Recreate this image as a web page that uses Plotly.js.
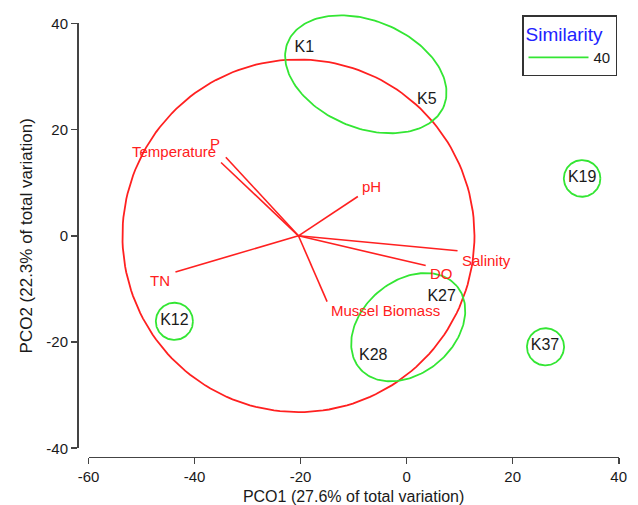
<!DOCTYPE html>
<html>
<head>
<meta charset="utf-8">
<script src="https://cdn.plot.ly/plotly-3.0.1.min.js"></script>
<style>html,body{margin:0;padding:0;background:#fff;}</style>
</head>
<body>
<div id="chart" style="width:638px;height:505px;"></div>
<script>
// ---------- data ----------
const siteNames = ["K1", "K5", "K19", "K12", "K27", "K28", "K37"];
const siteX = [-19.3, 3.8, 33.1, -43.8, 6.6, -6.3, 26.1];
const siteY = [35.4, 25.6, 10.8, -16.0, -11.6, -22.6, -20.7];

const vectorNames = ["Temperature", "P", "pH", "Salinity", "DO", "Mussel Biomass", "TN"];
const vectorX = [-35.0, -34.1, -9.2, 9.6, 3.6, -15.0, -43.6];
const vectorY = [13.8, 14.8, 7.4, -2.8, -5.6, -12.4, -6.8];
const vectorOrigin = [-20.4, 0];
const correlationCircleRadius = 33.2;

// similarity (40) contours: centre x, centre y, semi-axis a, semi-axis b, angle (deg)
const clusterCX = [-7.7, 0.3, 33.1, -43.8, 26.2];
const clusterCY = [30.4, -17.2, 10.8, -16.1, -20.9];
const clusterA = [15.9, 12.0, 3.45, 3.5, 3.5];
const clusterB = [10.1, 8.7, 3.45, 3.5, 3.5];
const clusterAngle = [-22, 40, 0, 0, 0];
const similarityLevel = "40";

const xTickVals = [-60, -40, -20, 0, 20, 40];
const xTickText = ["-60", "-40", "-20", "0", "20", "40"];
const yTickVals = [-40, -20, 0, 20, 40];
const yTickText = ["-40", "-20", "0", "20", "40"];
const xTitle = "PCO1 (27.6% of total variation)";
const yTitle = "PCO2 (22.3% of total variation)";

// ---------- styles ----------
const FONT = "Arial, 'Liberation Sans', sans-serif";
const RED = "#ff2020";
const GREEN = "#33e633";
const labelStyle = {
  "Temperature":    {xa: "right", ya: "middle", dx: -3, dy: 11},
  "P":              {xa: "right", ya: "middle", dx: -4, dy: 14},
  "pH":             {xa: "left",  ya: "middle", dx: 2,  dy: 10},
  "Salinity":       {xa: "left",  ya: "middle", dx: 2,  dy: -10},
  "DO":             {xa: "left",  ya: "middle", dx: 2,  dy: -8},
  "Mussel Biomass": {xa: "left",  ya: "middle", dx: 2,  dy: -9},
  "TN":             {xa: "right", ya: "middle", dx: -3, dy: -9}
};

// ---------- geometry of the frame ----------
const W = 638, H = 505;
const axX0 = 88.5, axX1 = 618.7;     // pixel positions of x=-60 and x=40
const axYT = 23.3, axYB = 448.3;     // pixel positions of y=40 and y=-40
const sx = (axX1 - axX0) / 100;
const sy = (axYB - axYT) / 80;

function ellipsePath(cx, cy, a, b, angDeg) {
  const t = angDeg * Math.PI / 180, xs = [], ys = [];
  for (let i = 0; i <= 180; i++) {
    const u = 2 * Math.PI * i / 180;
    const ex = a * Math.cos(u), ey = b * Math.sin(u);
    xs.push(cx + ex * Math.cos(t) - ey * Math.sin(t));
    ys.push(cy + ex * Math.sin(t) + ey * Math.cos(t));
  }
  return [xs, ys];
}

const traces = [];

// correlation circle
const cc = ellipsePath(vectorOrigin[0], vectorOrigin[1], correlationCircleRadius, correlationCircleRadius, 0);
traces.push({x: cc[0], y: cc[1], mode: "lines", line: {color: RED, width: 1.8},
  showlegend: false, hoverinfo: "skip"});

// vectors
const vx = [], vy = [];
vectorNames.forEach((n, i) => {
  vx.push(vectorOrigin[0], vectorX[i], null);
  vy.push(vectorOrigin[1], vectorY[i], null);
});
traces.push({x: vx, y: vy, mode: "lines", line: {color: RED, width: 1.6},
  showlegend: false, hoverinfo: "skip"});

// similarity contours
const gx = [], gy = [];
clusterCX.forEach((c, i) => {
  const p = ellipsePath(clusterCX[i], clusterCY[i], clusterA[i], clusterB[i], clusterAngle[i]);
  gx.push(...p[0], null); gy.push(...p[1], null);
});
traces.push({x: gx, y: gy, mode: "lines", name: similarityLevel,
  line: {color: GREEN, width: 1.8}, showlegend: true, hoverinfo: "skip"});

// site labels
traces.push({x: siteX, y: siteY, text: siteNames, mode: "text", textposition: "middle center",
  textfont: {family: FONT, size: 16, color: "#1a1a1a"}, showlegend: false, cliponaxis: false});

// dummy trace for the display axes
traces.push({x: [0], y: [0], xaxis: "x2", yaxis: "y2", mode: "markers",
  marker: {opacity: 0}, showlegend: false, hoverinfo: "skip"});

const annotations = vectorNames.map((n, i) => ({
  x: vectorX[i], y: vectorY[i], xref: "x", yref: "y", text: n, showarrow: false,
  xanchor: labelStyle[n].xa, yanchor: labelStyle[n].ya,
  xshift: labelStyle[n].dx, yshift: labelStyle[n].dy,
  font: {family: FONT, size: 15, color: RED}
}));

const axisStyle = {
  showline: true, linecolor: "#444", linewidth: 1.6, mirror: false,
  ticks: "outside", ticklen: 6, tickwidth: 1.6, tickcolor: "#444",
  showgrid: false, zeroline: false, tickmode: "array",
  tickfont: {family: FONT, size: 15, color: "#1a1a1a"}, fixedrange: true
};

const layout = {
  width: W, height: H,
  margin: {l: 0, r: 0, t: 0, b: 0, pad: 0},
  paper_bgcolor: "#ffffff", plot_bgcolor: "rgba(0,0,0,0)",
  font: {family: FONT, color: "#1a1a1a"},
  showlegend: true,
  xaxis: {domain: [0, 1], range: [-60 - axX0 / sx, 40 + (W - axX1) / sx], visible: false, fixedrange: true},
  yaxis: {domain: [0, 1], range: [-40 - (H - axYB) / sy, 40 + axYT / sy], visible: false, fixedrange: true},
  xaxis2: Object.assign({}, axisStyle, {
    domain: [axX0 / W, axX1 / W], range: [-60, 40], anchor: "free", position: (H - 456.7) / H,
    tickvals: xTickVals, ticktext: xTickText,
    title: {text: xTitle, font: {family: FONT, size: 16, color: "#1a1a1a"}, standoff: 8}
  }),
  yaxis2: Object.assign({}, axisStyle, {
    domain: [(H - axYB) / H, (H - axYT) / H], range: [-40, 40], anchor: "free", position: 77 / W,
    tickvals: yTickVals, ticktext: yTickText,
    title: {text: yTitle, font: {family: FONT, size: 17, color: "#1a1a1a"}, standoff: 8}
  }),
  legend: {
    x: 617 / W, xanchor: "right", y: (H - 15) / H, yanchor: "top",
    bgcolor: "#ffffff", bordercolor: "#333", borderwidth: 1.5,
    font: {family: FONT, size: 15, color: "#1a1a1a"},
    title: {text: "Similarity", font: {family: FONT, size: 19, color: "#2222ff"}, side: "top"},
    itemwidth: 60, tracegroupgap: 0
  },
  annotations: annotations
};

Plotly.newPlot("chart", traces, layout, {staticPlot: true, displayModeBar: false});
</script>
</body>
</html>
